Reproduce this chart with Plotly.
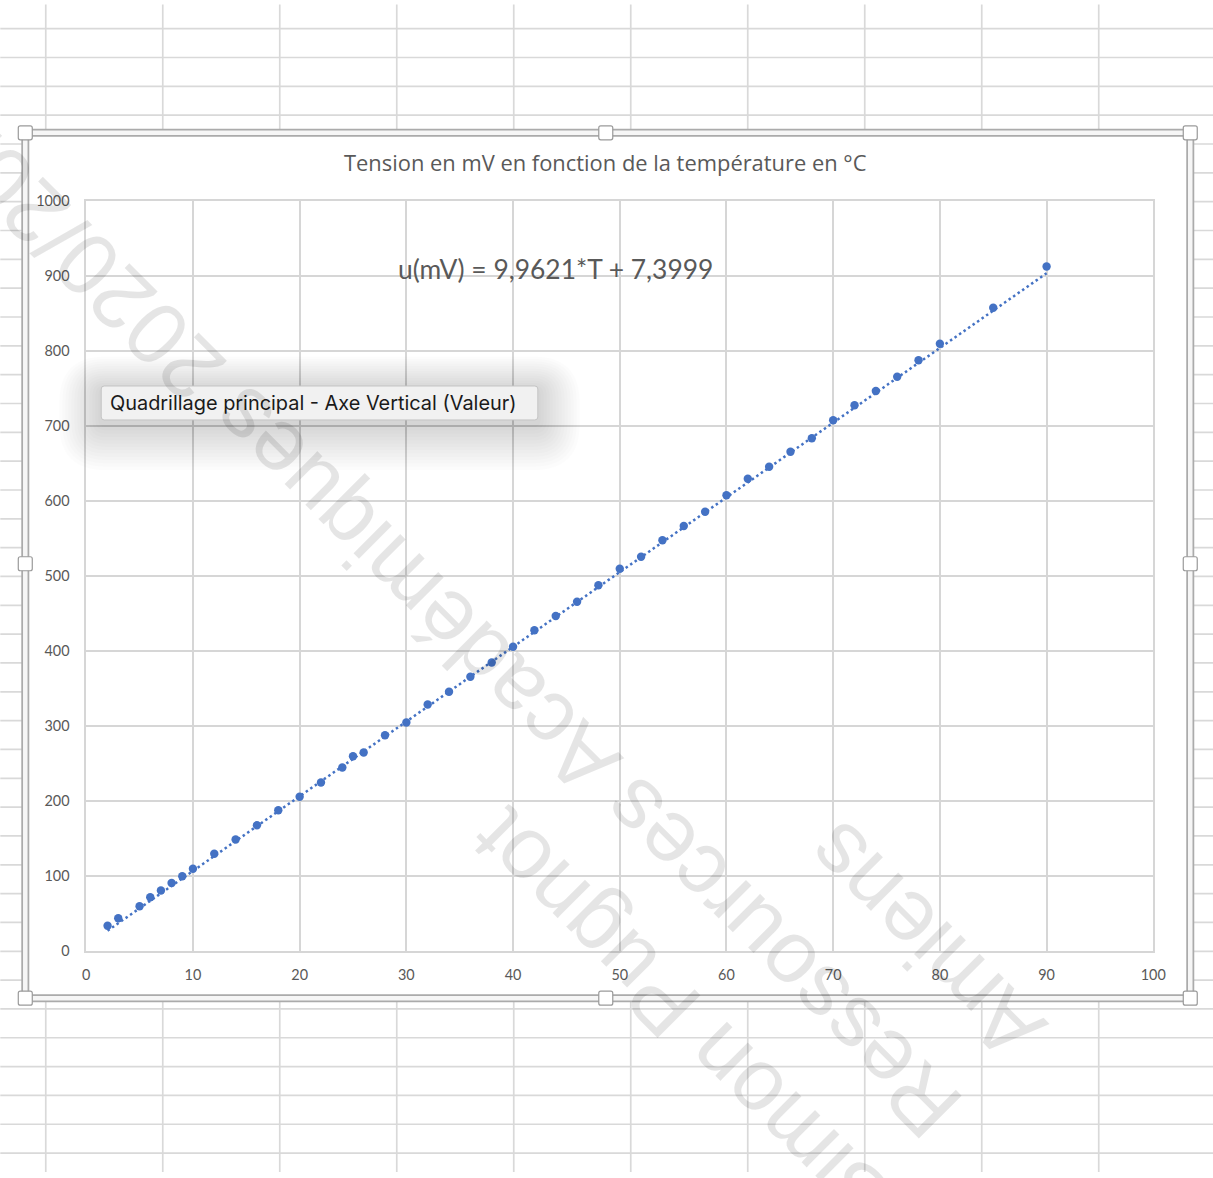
import plotly.graph_objects as go

# Temperature (°C) and measured voltage (mV)
temperature_c = [2, 3, 5, 6, 7, 8, 9, 10, 12, 14, 16, 18, 20, 22, 24, 25, 26, 28, 30, 32,
                 34, 36, 38, 40, 42, 44, 46, 48, 50, 52, 54, 56, 58, 60, 62, 64, 66, 68,
                 70, 72, 74, 76, 78, 80, 85, 90]
tension_mv = [34, 44, 60, 72, 81, 91, 100, 110, 130, 149, 168, 188, 206, 225, 245, 260,
              265, 288, 305, 329, 346, 366, 385, 406, 428, 447, 466, 488, 510, 526, 548,
              567, 586, 608, 630, 646, 666, 684, 708, 728, 747, 766, 788, 810, 858, 913]

# Linear trend line coefficients shown in the equation label
slope = 9.9621
intercept = 7.3999

x_ticks = [0, 10, 20, 30, 40, 50, 60, 70, 80, 90, 100]
y_ticks = [0, 100, 200, 300, 400, 500, 600, 700, 800, 900, 1000]

title_text = "Tension en mV en fonction de la température en °C"
equation_text = "u(mV) = 9,9621*T + 7,3999"
tooltip_text = "Quadrillage principal - Axe Vertical (Valeur)"
watermark_lines = ["Simon Pugnot", "Ressources Académiques 2020/2021", "Amiens"]

# Layout positions are written in view pixels; the page shows the figure
# slightly shifted and scaled, so they are mapped back to figure pixels.
VIEW_W, VIEW_H = 1213, 1178
OX, OY, S = 3.7, 7.5, 0.987
W = int(round((VIEW_W - OX) / S)) + 1
H = int(round((VIEW_H - OY) / S)) + 1
BLUE = "#4472C4"
TEXT_GREY = "#595959"
GRID = "#d6d6d6"


def px(x, y):
    """View pixel position -> paper coordinates."""
    fx = (x - OX) / S
    fy = (y - OY) / S
    return fx / W, 1 - fy / H


shapes = []


def line_px(x0, y0, x1, y1, color, width, layer="below"):
    a, b = px(x0, y0)
    c, d = px(x1, y1)
    shapes.append(dict(type="line", xref="paper", yref="paper", x0=a, y0=b, x1=c, y1=d,
                       line=dict(color=color, width=width), layer=layer))


def rect_px(x0, y0, x1, y1, fill=None, color=None, width=0, layer="below"):
    a, b = px(x0, y0)
    c, d = px(x1, y1)
    shapes.append(dict(type="rect", xref="paper", yref="paper", x0=a, y0=b, x1=c, y1=d,
                       fillcolor=fill or "rgba(0,0,0,0)",
                       line=dict(color=color or "rgba(0,0,0,0)", width=width), layer=layer))


def round_rect_px(x0, y0, x1, y1, r, fill, color=None, width=0, layer="above"):
    def P(x, y):
        a, b = px(x, y)
        return f"{a:.6f},{b:.6f}"
    path = (f"M {P(x0 + r, y0)} L {P(x1 - r, y0)} Q {P(x1, y0)} {P(x1, y0 + r)} "
            f"L {P(x1, y1 - r)} Q {P(x1, y1)} {P(x1 - r, y1)} "
            f"L {P(x0 + r, y1)} Q {P(x0, y1)} {P(x0, y1 - r)} "
            f"L {P(x0, y0 + r)} Q {P(x0, y0)} {P(x0 + r, y0)} Z")
    shapes.append(dict(type="path", xref="paper", yref="paper", path=path,
                       fillcolor=fill, line=dict(color=color or "rgba(0,0,0,0)", width=width),
                       layer=layer))


# Spreadsheet cell grid behind the chart object
row_y = 27.2
while row_y < 1160:
    line_px(0, row_y, VIEW_W + 10, row_y, "#d9d9d9", 1.7)
    row_y += 28.87
col_x = 45.5
while col_x < VIEW_W:
    line_px(col_x, 3, col_x, 1172, "#d9d9d9", 1.7)
    col_x += 117.1

# Chart object: white area and selection frame
rect_px(25, 131.5, 1191, 998, fill="white")
rect_px(25, 131.5, 1191, 998, color="#ababab", width=8)
rect_px(25, 131.5, 1191, 998, color="#f6f6f6", width=4.5)

# Resize handles
for hx, hy in [(25, 131.5), (606, 131.5), (1191, 131.5), (25, 563), (1191, 563),
               (25, 998), (606, 998), (1191, 998)]:
    round_rect_px(hx - 7, hy - 7, hx + 7, hy + 7, 2, "white", "#9a9a9a", 1.2, layer="below")

# Tooltip with soft shadow
bx0, by0, bx1, by1 = 101, 385, 538, 419
for i in range(14, 0, -1):
    e = i * 3.0
    round_rect_px(bx0 - e, by0 - e * 0.8 + 4, bx1 + e, by1 + e * 1.1 + 4, e + 4,
                  "rgba(0,0,0,0.010)")
round_rect_px(bx0, by0, bx1, by1, 3, "#f1f1f1", "#c4c4c4", 1)

fig = go.Figure()

trend_x = [min(temperature_c), max(temperature_c)]
trend_y = [slope * t + intercept for t in trend_x]

fig.add_trace(go.Scatter(
    x=temperature_c, y=tension_mv, mode="markers",
    marker=dict(color=BLUE, size=8.4, line=dict(width=0)),
    showlegend=False, hoverinfo="skip"))
fig.add_trace(go.Scatter(
    x=trend_x, y=trend_y, mode="lines",
    line=dict(color=BLUE, width=2.5, dash="2.5px,3px"),
    showlegend=False, hoverinfo="skip"))

annotations = []
tx, ty = px(606, 161.5)
annotations.append(dict(x=tx, y=ty, xref="paper", yref="paper", text=title_text,
                        showarrow=False, xanchor="center", yanchor="middle",
                        font=dict(family="Open Sans", size=21.9, color=TEXT_GREY)))
ex, ey = px(555.5, 267.5)
annotations.append(dict(x=ex, y=ey, xref="paper", yref="paper", text=equation_text,
                        showarrow=False, xanchor="center", yanchor="middle",
                        font=dict(family="Lato", size=26.4, color=TEXT_GREY)))
qx, qy = px(108, 402)
annotations.append(dict(x=qx, y=qy, xref="paper", yref="paper", text=tooltip_text,
                        showarrow=False, xanchor="left", yanchor="middle",
                        font=dict(family="Inter", size=19.9, color="#1a1a1a")))

# Diagonal watermark, one annotation per line
for text, (cx, cy) in zip(watermark_lines, [(682, 1020), (430, 606), (925, 942)]):
    wx, wy = px(cx, cy)
    annotations.append(dict(x=wx, y=wy, xref="paper", yref="paper", text=text,
                            showarrow=False, xanchor="center", yanchor="middle",
                            textangle=-135,
                            font=dict(family="Liberation Sans", size=88,
                                      color="rgba(0,0,0,0.10)")))

axis_common = dict(showgrid=True, gridcolor=GRID, gridwidth=1.6, zeroline=False,
                   showline=True, linecolor=GRID, linewidth=1.6, mirror=True,
                   ticks="", tickfont=dict(family="Lato", size=14.4, color=TEXT_GREY))

x_left, _ = px(86, 0)
x_right, _ = px(1154, 0)
_, y_bottom = px(0, 951)
_, y_top = px(0, 200)

fig.update_layout(
    width=W, height=H,
    margin=dict(l=0, r=0, t=0, b=0),
    paper_bgcolor="white", plot_bgcolor="rgba(0,0,0,0)",
    xaxis=dict(domain=[x_left, x_right], range=[0, 100], tickvals=x_ticks,
               ticktext=[str(v) for v in x_ticks], ticklabelstandoff=10, **axis_common),
    yaxis=dict(domain=[y_bottom, y_top], range=[0, 1000], tickvals=y_ticks,
               ticktext=[str(v) for v in y_ticks], ticklabelstandoff=12, **axis_common),
    shapes=shapes,
    annotations=annotations,
)

fig.write_html("out.html")
